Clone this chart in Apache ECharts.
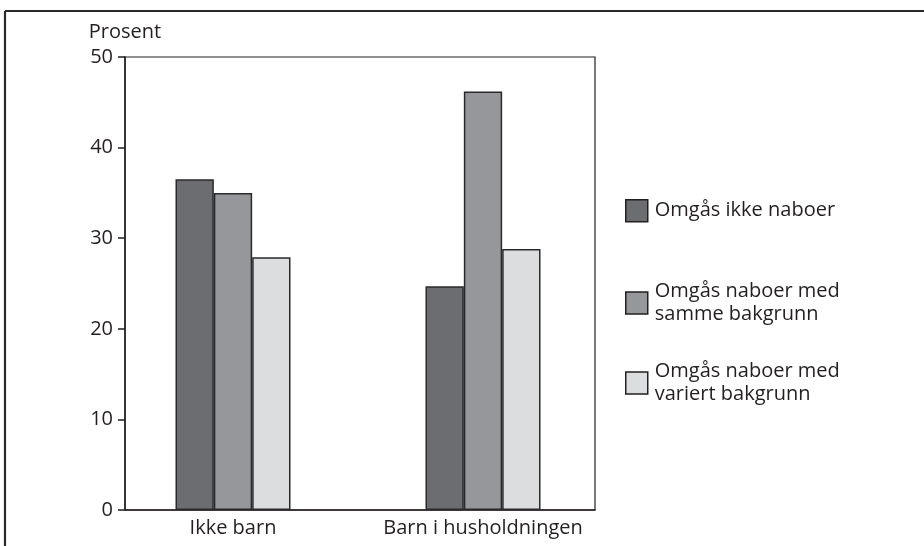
<!DOCTYPE html>
<html><head><meta charset="utf-8">
<script src="https://cdn.jsdelivr.net/npm/echarts@6/dist/echarts.min.js"></script>
<style>html,body{margin:0;padding:0;background:#fff}#c{width:924px;height:546px}</style>
</head><body><div id="c"></div>
<script>
const categories = ['Ikke barn', 'Barn i husholdningen'];
const seriesNames = ['Omgås ikke naboer', 'Omgås naboer med samme bakgrunn', 'Omgås naboer med variert bakgrunn'];
const legendLabels = ['Omgås ikke naboer', 'Omgås naboer med\nsamme bakgrunn', 'Omgås naboer med\nvariert bakgrunn'];
const ikkeNaboer = [36.5, 24.7];
const sammeBakgrunn = [35.0, 46.2];
const variertBakgrunn = [27.9, 28.8];
const yTicks = [0, 10, 20, 30, 40, 50];

const colors = ['#6c6d71', '#96979b', '#dcdddf'];
const values = [ikkeNaboer, sammeBakgrunn, variertBakgrunn];
const FONT = 'Open Sans';
const FS = 20;
const TXT = '#231f20';

const chart = echarts.init(document.getElementById('c'), null, {renderer: 'canvas'});
const legendTops = [199, 280, 360];
chart.setOption({
  animation: false,
  backgroundColor: '#fff',
  textStyle: {fontFamily: FONT, color: TXT},
  graphic: [
    {type: 'line', shape: {x1: 5, y1: 11, x2: 924, y2: 11}, style: {stroke: '#2b2a2b', lineWidth: 2.2}},
    {type: 'line', shape: {x1: 5, y1: 11, x2: 5, y2: 546}, style: {stroke: '#2b2a2b', lineWidth: 2.2}}
  ],
  grid: [
    {left: 125, top: 57, width: 470, height: 453, show: true, borderColor: '#231f20', borderWidth: 1.2, backgroundColor: 'transparent'},
    {left: 108, top: 57, width: 500, height: 453, show: false}
  ],
  legend: seriesNames.map((n, i) => ({
    data: [n], left: 625, top: legendTops[i], orient: 'vertical', padding: 0,
    icon: 'rect', itemWidth: 22, itemHeight: 22, itemGap: 0, selectedMode: false,
    formatter: () => legendLabels[i],
    textStyle: {fontFamily: FONT, fontSize: FS, color: TXT, lineHeight: 23, padding: [0, 0, 0, 2]},
    itemStyle: {borderColor: '#231f20', borderWidth: 1.5}
  })),
  xAxis: [
    {type: 'category', gridIndex: 0, data: categories, axisLine: {lineStyle: {color: '#231f20', width: 1.5}},
     axisTick: {show: false}, axisLabel: {show: false}},
    {type: 'category', gridIndex: 1, data: categories, axisLine: {show: false}, axisTick: {show: false},
     axisLabel: {fontFamily: FONT, fontSize: FS, color: TXT, margin: 8, interval: 0, hideOverlap: false}}
  ],
  yAxis: [
    {type: 'value', gridIndex: 0, min: 0, max: 50, interval: 10, name: 'Prosent', nameLocation: 'end', nameGap: 15,
     nameTextStyle: {fontFamily: FONT, fontSize: FS, color: TXT},
     axisLine: {show: true, lineStyle: {color: '#231f20', width: 1.5}},
     axisTick: {show: true, length: 7, lineStyle: {color: '#231f20', width: 1.5}},
     axisLabel: {fontFamily: FONT, fontSize: FS, color: TXT, margin: 12,
       formatter: v => yTicks.includes(v) ? String(v) : ''},
     splitLine: {show: false}},
    {type: 'value', gridIndex: 1, min: 0, max: 50, interval: 10, show: false}
  ],
  series: seriesNames.map((n, i) => ({
    name: n, type: 'bar', xAxisIndex: 1, yAxisIndex: 1, data: values[i],
    barGap: '0%', barCategoryGap: '54%',
    itemStyle: {color: colors[i], borderColor: '#2a292b', borderWidth: 1.5}
  }))
});
</script></body></html>
